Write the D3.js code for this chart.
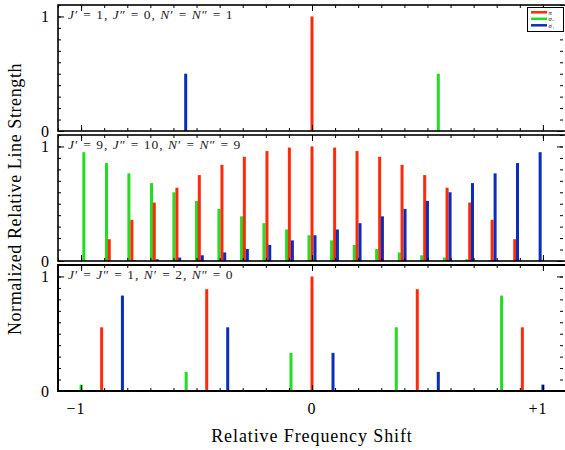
<!DOCTYPE html>
<html>
<head>
<meta charset="utf-8">
<script src="https://cdn.jsdelivr.net/npm/d3@7"></script>
<style>
  body { margin: 0; background: #fff; }
  svg { display: block; }
  svg text { font-family: "Liberation Serif", "DejaVu Serif", serif; }
</style>
</head>
<body>
<div id="chart"></div>
<script>
const width = 565;
const height = 450;

// panel 1: J'=1, J''=0, N'=N''=1
const piPos1 = [0];
const piVal1 = [1.0];
const smPos1 = [0.547];
const smVal1 = [0.5];
const spPos1 = [-0.547];
const spVal1 = [0.5];

// panel 2: J'=9, J''=10, N'=N''=9
const piPos2 = [-0.878, -0.780, -0.683, -0.585, -0.488, -0.390, -0.293, -0.195, -0.098, 0,
  0.098, 0.195, 0.293, 0.390, 0.488, 0.585, 0.683, 0.780, 0.878];
const piVal2 = [0.19, 0.36, 0.51, 0.64, 0.75, 0.84, 0.91, 0.96, 0.99, 1.0,
  0.99, 0.96, 0.91, 0.84, 0.75, 0.64, 0.51, 0.36, 0.19];
const smPos2 = [-0.988, -0.890, -0.793, -0.695, -0.598, -0.500, -0.403, -0.305, -0.208, -0.110,
  -0.013, 0.085, 0.183, 0.280, 0.378, 0.475, 0.573, 0.670, 0.768];
const smVal2 = [0.95, 0.855, 0.765, 0.68, 0.60, 0.525, 0.455, 0.39, 0.33, 0.275,
  0.225, 0.18, 0.14, 0.105, 0.075, 0.05, 0.03, 0.015, 0.005];
const spPos2 = [-0.768, -0.670, -0.573, -0.475, -0.378, -0.280, -0.183, -0.085, 0.013, 0.110,
  0.208, 0.305, 0.403, 0.500, 0.598, 0.695, 0.793, 0.890, 0.988];
const spVal2 = [0.005, 0.015, 0.03, 0.05, 0.075, 0.105, 0.14, 0.18, 0.225, 0.275,
  0.33, 0.39, 0.455, 0.525, 0.60, 0.68, 0.765, 0.855, 0.95];

// panel 3: J'=J''=1, N'=2, N''=0
const piPos3 = [-0.911, -0.456, 0, 0.456, 0.911];
const piVal3 = [0.556, 0.889, 1.0, 0.889, 0.556];
const smPos3 = [-1.0, -0.545, -0.091, 0.365, 0.821];
const smVal3 = [0.056, 0.167, 0.333, 0.556, 0.833];
const spPos3 = [-0.821, -0.365, 0.091, 0.547, 1.0];
const spVal3 = [0.833, 0.556, 0.333, 0.167, 0.056];

const xTicks = [-1, 0, 1];
const xTickLabels = ["\u22121", "0", "+1"];
const yTicks = [0, 1];

const colors = { pi: "#ff2a0a", sm: "#22dd22", sp: "#0b2dbb" };

// annotation pieces: [text, italic?]
const labels = [
  [["J", 1], ["\u2032 = 1, ", 0], ["J", 1], ["\u2033 = 0, ", 0], ["N", 1], ["\u2032 = ", 0], ["N", 1], ["\u2033 = 1", 0]],
  [["J", 1], ["\u2032 = 9, ", 0], ["J", 1], ["\u2033 = 10, ", 0], ["N", 1], ["\u2032 = ", 0], ["N", 1], ["\u2033 = 9", 0]],
  [["J", 1], ["\u2032 = ", 0], ["J", 1], ["\u2033 = 1, ", 0], ["N", 1], ["\u2032 = 2, ", 0], ["N", 1], ["\u2033 = 0", 0]]
];

const panels = [
  { pi: [piPos1, piVal1], sm: [smPos1, smVal1], sp: [spPos1, spVal1] },
  { pi: [piPos2, piVal2], sm: [smPos2, smVal2], sp: [spPos2, spVal2] },
  { pi: [piPos3, piVal3], sm: [smPos3, smVal3], sp: [spPos3, spVal3] }
];

const left = 58, right = 566;
const tops = [5, 135, 265];
const ph = 126;

const x = d3.scaleLinear().domain([-1.1, 1.1]).range([left, right]);

const svg = d3.select("#chart").append("svg")
  .attr("width", width)
  .attr("height", height);

panels.forEach((p, i) => {
  const top = tops[i];
  const y = d3.scaleLinear().domain([0, 1.1]).range([top + ph, top]);
  const g = svg.append("g");

  // bars
  ["sm", "pi", "sp"].forEach(k => {
    const [pos, val] = p[k];
    g.append("g")
      .selectAll("rect")
      .data(pos.map((d, j) => ({ x: d, v: val[j] })))
      .join("rect")
      .attr("x", d => x(d.x) - 1.5)
      .attr("width", 3)
      .attr("y", d => y(d.v))
      .attr("height", d => y(0) - y(d.v))
      .attr("fill", colors[k]);
  });

  // inward ticks on all four sides
  const minorX = d3.range(-11, 12).map(d => d / 10);
  const minorY = d3.range(0, 12).map(d => d / 10);
  const tickAttrs = sel => sel.attr("stroke", "#000").attr("stroke-width", 1);

  g.append("g").attr("transform", `translate(0,${top + ph})`)
    .call(d3.axisTop(x).tickValues(minorX).tickSize(3).tickFormat(""))
    .call(a => a.select(".domain").remove()).selectAll("line").call(tickAttrs);
  g.append("g").attr("transform", `translate(0,${top + ph})`)
    .call(d3.axisTop(x).tickValues(xTicks).tickSize(6).tickFormat(""))
    .call(a => a.select(".domain").remove()).selectAll("line").call(tickAttrs);
  g.append("g").attr("transform", `translate(0,${top})`)
    .call(d3.axisBottom(x).tickValues(minorX).tickSize(3).tickFormat(""))
    .call(a => a.select(".domain").remove()).selectAll("line").call(tickAttrs);
  g.append("g").attr("transform", `translate(0,${top})`)
    .call(d3.axisBottom(x).tickValues(xTicks).tickSize(6).tickFormat(""))
    .call(a => a.select(".domain").remove()).selectAll("line").call(tickAttrs);

  g.append("g").attr("transform", `translate(${left},0)`)
    .call(d3.axisRight(y).tickValues(minorY).tickSize(3).tickFormat(""))
    .call(a => a.select(".domain").remove()).selectAll("line").call(tickAttrs);
  g.append("g").attr("transform", `translate(${left},0)`)
    .call(d3.axisRight(y).tickValues(yTicks).tickSize(6).tickFormat(""))
    .call(a => a.select(".domain").remove()).selectAll("line").call(tickAttrs);
  g.append("g").attr("transform", `translate(${right - 3},0)`)
    .call(d3.axisLeft(y).tickValues(minorY).tickSize(3).tickFormat(""))
    .call(a => a.select(".domain").remove()).selectAll("line").call(tickAttrs);
  g.append("g").attr("transform", `translate(${right - 3},0)`)
    .call(d3.axisLeft(y).tickValues(yTicks).tickSize(6).tickFormat(""))
    .call(a => a.select(".domain").remove()).selectAll("line").call(tickAttrs);

  // frame
  g.append("rect")
    .attr("x", left).attr("y", top)
    .attr("width", right - left).attr("height", ph)
    .attr("fill", "none").attr("stroke", "#000")
    .attr("stroke-width", i === 2 ? 2 : 1.6);

  // y tick labels
  g.selectAll(".ylab")
    .data(yTicks)
    .join("text")
    .attr("x", left - 9)
    .attr("y", d => y(d))
    .attr("dy", "0.35em")
    .attr("text-anchor", "end")
    .style("font-size", "16px")
    .text(d => d);

  // panel annotation
  const t = g.append("text")
    .attr("x", 68)
    .attr("y", top + 14)
    .style("font-size", "13.5px")
    .style("letter-spacing", "1px")
    .attr("fill", "#222");
  labels[i].forEach(([s, it]) => {
    t.append("tspan")
      .style("font-style", it ? "italic" : "normal")
      .text(s);
  });
});

// x tick labels
svg.selectAll(".xlab")
  .data(xTicks)
  .join("text")
  .attr("x", d => x(d) - (d === 0 ? 0 : 5))
  .attr("y", 414)
  .attr("text-anchor", "middle")
  .style("font-size", "16px")
  .style("letter-spacing", "1px")
  .text((d, i) => xTickLabels[i]);

// axis titles
svg.append("text")
  .attr("x", 312)
  .attr("y", 442)
  .attr("text-anchor", "middle")
  .style("font-size", "18px")
  .style("letter-spacing", "0.9px")
  .text("Relative Frequency Shift");

svg.append("text")
  .attr("transform", "translate(21,199) rotate(-90)")
  .attr("text-anchor", "middle")
  .style("font-size", "18px")
  .style("letter-spacing", "0.6px")
  .text("Normalized Relative Line Strength");

// legend
const legendItems = [["pi", "\u03c0", ""], ["sm", "\u03c3", "\u2212"], ["sp", "\u03c3", "+"]];
const lg = svg.append("g");
lg.append("rect")
  .attr("x", 527.5).attr("y", 7.5)
  .attr("width", 36).attr("height", 24)
  .attr("fill", "#fff").attr("stroke", "#000").attr("stroke-width", 1);
legendItems.forEach(([k, s, sub], j) => {
  const ly = 12.3 + j * 6.5;
  lg.append("line")
    .attr("x1", 531).attr("x2", 547)
    .attr("y1", ly).attr("y2", ly)
    .attr("stroke", colors[k]).attr("stroke-width", 2.5);
  const tt = lg.append("text")
    .attr("x", 548.5).attr("y", ly + 2.2)
    .style("font-size", "6.5px")
    .style("font-style", "italic");
  tt.append("tspan").text(s);
  if (sub) tt.append("tspan").attr("dy", 1).style("font-size", "5px").style("font-style", "normal").text(sub);
});
</script>
</body>
</html>
